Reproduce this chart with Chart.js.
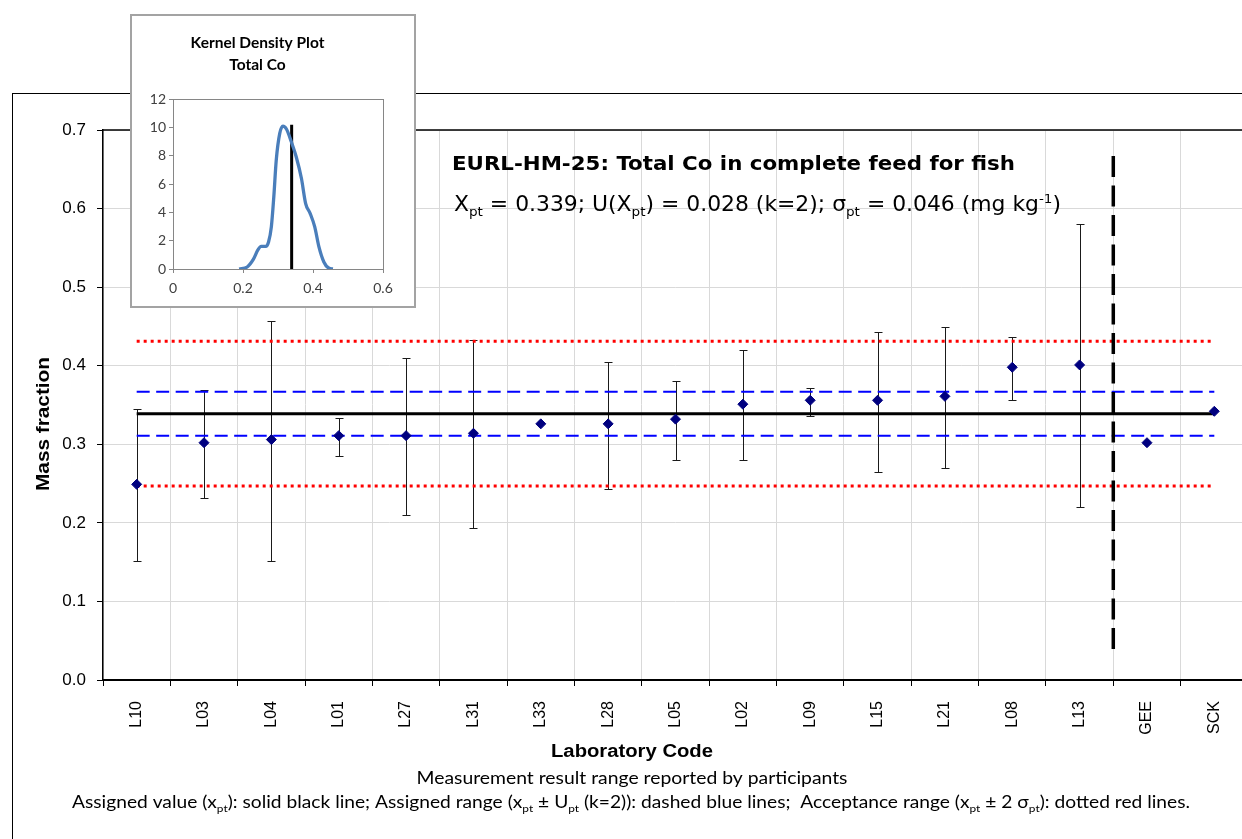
<!DOCTYPE html>
<html>
<head>
<meta charset="utf-8">
<title>EURL-HM-25: Total Co in complete feed for fish</title>
<script src="https://cdn.jsdelivr.net/npm/chart.js@4.4.1/dist/chart.umd.min.js"></script>
<style>
  html, body { margin: 0; padding: 0; background: #fff; }
  body { width: 1242px; height: 839px; overflow: hidden; position: relative; }
  #frame { position: absolute; left: 12px; top: 93px; width: 1400px; height: 900px; border: 1px solid #000; }
  #main { position: absolute; left: 0; top: 0; }
  #inset { position: absolute; left: 130px; top: 14px; width: 282px; height: 290px;
           border: 2px solid #a3a3a3; background: #fff; }
  #kde { display: block; }
</style>
</head>
<body>
<div id="frame"></div>
<canvas id="main" width="1260" height="839"></canvas>
<div id="inset"><canvas id="kde" width="282" height="290"></canvas></div>
<script>
// participant results, mg/kg
var labs = ['L10', 'L03', 'L04', 'L01', 'L27', 'L31', 'L33', 'L28', 'L05', 'L02', 'L09', 'L15', 'L21', 'L08', 'L13', 'GEE', 'SCK'];
var results = [0.249, 0.302, 0.306, 0.311, 0.311, 0.314, 0.326, 0.326, 0.332, 0.351, 0.356, 0.356, 0.361, 0.398, 0.401, 0.302, 0.342];
var rangeLow = [0.151, 0.231, 0.152, 0.285, 0.210, 0.193, null, 0.243, 0.280, 0.280, 0.336, 0.265, 0.270, 0.356, 0.220, null, null];
var rangeHigh = [0.345, 0.369, 0.457, 0.334, 0.410, 0.433, null, 0.405, 0.380, 0.420, 0.372, 0.443, 0.449, 0.436, 0.580, null, null];

// assigned value, expanded uncertainty (k=2), standard deviation for PT
var xpt = 0.339;
var uxpt = 0.028;
var sigmaPt = 0.046;

// separator between participants and reference labs
var splitAfter = 'L13';
var splitSpan = [0.037, 0.667];

// kernel density curve (inset)
var kdeX = [0.189, 0.212, 0.229, 0.243, 0.252, 0.265, 0.273, 0.281, 0.288, 0.295, 0.305, 0.314, 0.324, 0.338, 0.352, 0.367, 0.379, 0.392, 0.405, 0.417, 0.431, 0.446, 0.457];
var kdeY = [0, 0.14, 0.66, 1.37, 1.6, 1.6, 1.91, 2.98, 5.1, 7.7, 9.59, 10.1, 9.9, 9.0, 7.94, 6.4, 4.63, 3.92, 2.98, 1.56, 0.5, 0.05, 0];
var kdeMarkTop = 10.2;

function flatLine(v) {
  return [{x: labs[0], y: v}, {x: labs[labs.length - 1], y: v}];
}

// text with sub/superscript runs, optionally squeezed to a given width
function drawRich(ctx, parts, opt) {
  var small = opt.size * 0.62;
  var fontFor = function (m) { return (opt.weight || 'normal') + ' ' + (m ? small : opt.size) + 'px ' + opt.family; };
  var natural = 0;
  parts.forEach(function (p) { ctx.font = fontFor(p[1]); natural += ctx.measureText(p[0]).width; });
  var sx = opt.width ? opt.width / natural : 1;
  var left = opt.align === 'center' ? opt.x - natural * sx / 2 : opt.x;
  ctx.save();
  ctx.translate(left, opt.y);
  ctx.scale(sx, 1);
  ctx.fillStyle = opt.color || '#000';
  ctx.textBaseline = 'alphabetic';
  ctx.textAlign = 'left';
  var cx = 0;
  parts.forEach(function (p) {
    ctx.font = fontFor(p[1]);
    var dy = p[1] === 'sub' ? opt.size * 0.22 : p[1] === 'sup' ? -opt.size * 0.4 : 0;
    ctx.fillText(p[0], cx, dy);
    cx += ctx.measureText(p[0]).width;
  });
  ctx.restore();
}

var rangeBars = {
  id: 'rangeBars',
  beforeDatasetsDraw: function (chart) {
    var ctx = chart.ctx, x = chart.scales.x, y = chart.scales.y;
    ctx.save();
    ctx.strokeStyle = '#1a1a1a';
    ctx.lineWidth = 1;
    labs.forEach(function (lab, i) {
      if (rangeLow[i] == null) return;
      var px = Math.round(x.getPixelForValue(i)) + 0.5;
      var top = Math.round(y.getPixelForValue(rangeHigh[i])) + 0.5;
      var bot = Math.round(y.getPixelForValue(rangeLow[i])) + 0.5;
      ctx.beginPath();
      ctx.moveTo(px, top); ctx.lineTo(px, bot);
      ctx.moveTo(px - 4, top); ctx.lineTo(px + 4, top);
      ctx.moveTo(px - 4, bot); ctx.lineTo(px + 4, bot);
      ctx.stroke();
    });
    ctx.restore();
  }
};

var textLayer = {
  id: 'textLayer',
  afterDraw: function (chart) {
    var ctx = chart.ctx, area = chart.chartArea;
    ctx.save();
    ctx.strokeStyle = '#000';
    ctx.lineWidth = 1.5;
    ctx.beginPath();
    ctx.moveTo(area.left, area.top);
    ctx.lineTo(area.right, area.top);
    ctx.stroke();
    ctx.restore();

    drawRich(ctx, [['EURL-HM-25: Total Co in complete feed for fish']],
      {x: 452, y: 170, size: 20, weight: 'bold', family: 'DejaVu Sans', width: 563});
    drawRich(ctx, [
      ['X'], ['pt', 'sub'], [' = ' + xpt.toFixed(3) + '; U(X'], ['pt', 'sub'],
      [') = ' + uxpt.toFixed(3) + ' (k=2); \u03c3'], ['pt', 'sub'],
      [' = ' + sigmaPt.toFixed(3) + ' (mg kg'], ['-1', 'sup'], [')']
    ], {x: 454, y: 211, size: 21, family: 'DejaVu Sans', width: 607});

    ctx.save();
    ctx.translate(42, 424);
    ctx.rotate(-Math.PI / 2);
    drawRich(ctx, [['Mass fraction']], {x: 0, y: 7, size: 19, weight: 'bold', family: 'Liberation Sans', align: 'center', width: 134});
    ctx.restore();

    drawRich(ctx, [['Laboratory Code']], {x: 632, y: 757, size: 18, weight: 'bold', family: 'Liberation Sans', align: 'center', width: 162});
    drawRich(ctx, [['Measurement result range reported by participants']],
      {x: 632, y: 784, size: 16.5, family: 'Lato', align: 'center', width: 431});
    drawRich(ctx, [
      ['Assigned value (x'], ['pt', 'sub'], ['): solid black line; Assigned range (x'], ['pt', 'sub'],
      [' \u00b1 U'], ['pt', 'sub'], [' (k=2)): dashed blue lines;  Acceptance range (x'], ['pt', 'sub'],
      [' \u00b1 2 \u03c3'], ['pt', 'sub'], ['): dotted red lines.']
    ], {x: 631, y: 808, size: 16.5, family: 'Lato', align: 'center', width: 1118});
  }
};

var splitX = labs.indexOf(splitAfter) + 0.5;

new Chart(document.getElementById('main'), {
  type: 'line',
  data: {
    labels: labs,
    datasets: [
      {
        data: results,
        showLine: false,
        pointStyle: 'rectRot',
        pointRadius: 5,
        backgroundColor: '#000080',
        borderColor: '#000080',
        borderWidth: 1,
        order: 0
      },
      {
        xAxisID: 'xSplit',
        data: [{x: splitX, y: splitSpan[1]}, {x: splitX, y: splitSpan[0]}],
        borderColor: '#000',
        borderWidth: 3.5,
        borderDash: [21, 8.5],
        pointRadius: 0,
        order: 1
      },
      {data: flatLine(xpt), borderColor: '#000', borderWidth: 3, pointRadius: 0, order: 2},
      {data: flatLine(xpt + uxpt), borderColor: '#0000ff', borderWidth: 2, borderDash: [13, 6.5], pointRadius: 0, order: 2},
      {data: flatLine(xpt - uxpt), borderColor: '#0000ff', borderWidth: 2, borderDash: [13, 6.5], pointRadius: 0, order: 2},
      {data: flatLine(xpt + 2 * sigmaPt), borderColor: '#ff0000', borderWidth: 3, borderDash: [3, 4], pointRadius: 0, order: 2},
      {data: flatLine(xpt - 2 * sigmaPt), borderColor: '#ff0000', borderWidth: 3, borderDash: [3, 4], pointRadius: 0, order: 2}
    ]
  },
  options: {
    responsive: false,
    animation: false,
    events: [],
    layout: {padding: {top: 130, left: 0, right: 12, bottom: 79}},
    plugins: {legend: {display: false}, tooltip: {enabled: false}},
    scales: {
      x: {
        offset: true,
        grid: {offset: true, color: '#d9d9d9', tickColor: '#000', tickLength: 6},
        border: {color: '#000', width: 2},
        ticks: {
          autoSkip: false, minRotation: 90, maxRotation: 90, padding: 15,
          color: '#000', font: {family: 'Liberation Sans', size: 16}
        },
        afterFit: function (s) { s.height = 80; }
      },
      xSplit: {type: 'linear', display: false, min: -0.5, max: labs.length - 0.5},
      y: {
        min: 0,
        max: 0.7,
        grid: {color: '#d9d9d9', tickColor: '#000', tickLength: 6},
        border: {color: '#000', width: 1.5},
        ticks: {
          stepSize: 0.1, padding: 11, color: '#000',
          font: {family: 'Liberation Sans', size: 17},
          callback: function (v) { return v.toFixed(1); }
        },
        afterFit: function (s) { s.width = 103; }
      }
    }
  },
  plugins: [rangeBars, textLayer]
});

var insetFrame = {
  id: 'insetFrame',
  afterDraw: function (chart) {
    var a = chart.chartArea, ctx = chart.ctx;
    ctx.save();
    ctx.strokeStyle = '#868686';
    ctx.lineWidth = 1;
    ctx.strokeRect(Math.round(a.left) + 0.5, Math.round(a.top) + 0.5, Math.round(a.right - a.left), Math.round(a.bottom - a.top));
    ctx.restore();
  }
};

new Chart(document.getElementById('kde'), {
  type: 'line',
  data: {
    datasets: [
      {
        data: kdeX.map(function (x, i) { return {x: x, y: kdeY[i]}; }),
        borderColor: '#4a7ebb',
        borderWidth: 3.3,
        pointRadius: 0,
        cubicInterpolationMode: 'monotone'
      },
      {
        data: [{x: xpt, y: 0}, {x: xpt, y: kdeMarkTop}],
        borderColor: '#000',
        borderWidth: 3,
        pointRadius: 0
      }
    ]
  },
  options: {
    responsive: false,
    animation: false,
    events: [],
    layout: {padding: {top: 0, left: 0, right: 31, bottom: 0}},
    plugins: {
      legend: {display: false},
      tooltip: {enabled: false},
      title: {
        display: true,
        text: ['Kernel Density Plot', 'Total Co'],
        color: '#000',
        font: {family: 'Lato', size: 15.5, weight: 'bold', lineHeight: 1.4},
        padding: {top: 16.5, bottom: 23.4}
      }
    },
    scales: {
      x: {
        type: 'linear', min: 0, max: 0.6,
        grid: {drawOnChartArea: false, tickColor: '#868686', tickLength: 4},
        border: {display: false},
        ticks: {
          stepSize: 0.2, padding: 7, color: '#404040', font: {family: 'Lato', size: 14},
          callback: function (v) { return v === 0 ? '0' : v.toFixed(1); }
        },
        afterFit: function (s) { s.height = 37; }
      },
      y: {
        min: 0, max: 12,
        grid: {drawOnChartArea: false, tickColor: '#868686', tickLength: 4},
        border: {display: false},
        ticks: {stepSize: 2, padding: 3, color: '#404040', font: {family: 'Lato', size: 14}},
        afterFit: function (s) { s.width = 41; }
      }
    }
  },
  plugins: [insetFrame]
});
</script>
</body>
</html>
